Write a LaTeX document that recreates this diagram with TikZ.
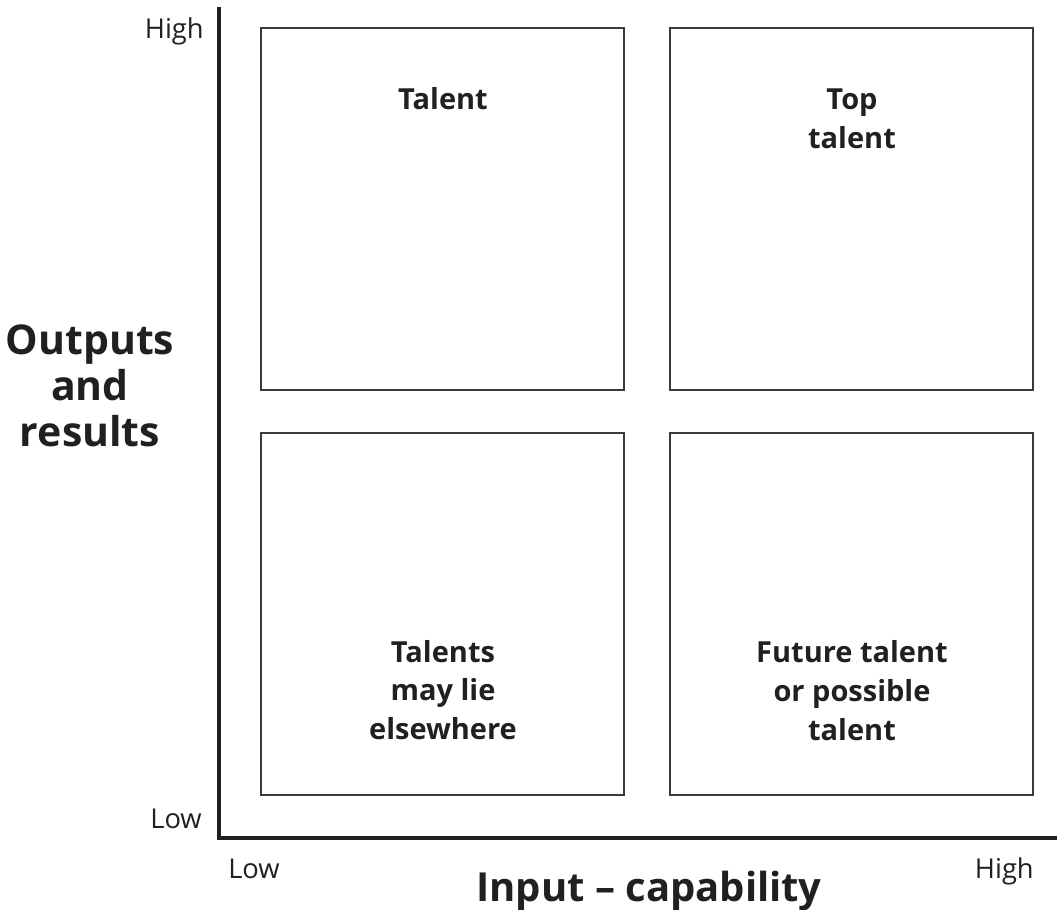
\documentclass[tikz,border=0pt]{standalone}
\usepackage{fontspec}
\setmainfont{Open Sans}
\definecolor{ink}{HTML}{231F20}
\definecolor{frame}{HTML}{3A3A3A}
\begin{document}
\begin{tikzpicture}[x=0.75pt,y=-0.75pt,
  axis/.style={draw=ink, line width=2.3pt, line join=miter},
  quad/.style={draw=frame, line width=1.3pt},
  tick/.style={text=ink, inner sep=0pt, font=\fontsize{20.5}{24}\selectfont},
  cell/.style={text=ink, inner sep=0pt, align=center, font=\fontsize{21.75}{29}\selectfont\bfseries},
  title/.style={text=ink, inner sep=0pt, align=center, font=\fontsize{30.75}{34.5}\selectfont\bfseries}]
\useasboundingbox (0,0) rectangle (1057,910);

% four quadrants
\draw[quad] (261,28) rectangle (624,390);
\draw[quad] (670,28) rectangle (1033,390);
\draw[quad] (261,433) rectangle (624,795);
\draw[quad] (670,433) rectangle (1033,795);

% axes
\coordinate (ytop) at (219,7);
\coordinate (origin) at (219,838);
\coordinate (xend) at (1057,838);
\draw[axis] (ytop) -- (origin) -- (xend);

% axis end labels
\node[tick, anchor=base east] (yhigh) at (204,38) {High};
\node[tick, anchor=base east] (ylow) at (202,828) {Low};
\node[tick, anchor=base west] (xlow) at (228,878) {Low};
\node[tick, anchor=base east] (xhigh) at (1034,878) {High};

% axis titles
\node[title] (ytitle) at (90,386) {Outputs\\and\\results};
\node[title, anchor=base, font=\fontsize{30}{34.5}\selectfont\bfseries] (xtitle) at (649,901) {Input -- capability};

% quadrant labels
\node[cell, anchor=base] (talent) at (443,109) {Talent};
\node[cell] (top) at (852,118.5) {Top\\talent};
\node[cell] (elsewhere) at (443,690) {Talents\\may lie\\elsewhere};
\node[cell] (future) at (852,690.5) {Future talent\\or possible\\talent};
\end{tikzpicture}
\end{document}
